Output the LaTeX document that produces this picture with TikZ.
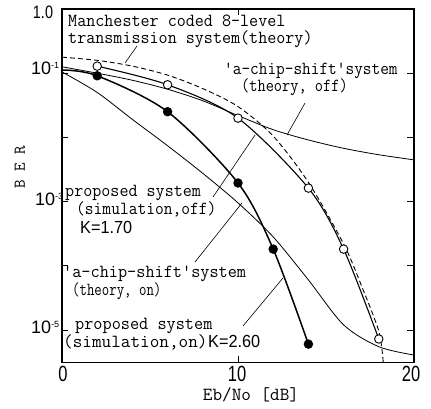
\documentclass[tikz,border=0pt]{standalone}
\usepackage{fontspec}
\usepackage{graphicx}
\newfontfamily\numfont{Liberation Sans}
\tikzset{
  lbl/.style={anchor=base west, inner sep=0pt, font=\fontsize{18.5}{18.5}\selectfont\ttfamily},
  knum/.style={anchor=base west, inner sep=0pt, font=\fontsize{17.5}{17.5}\selectfont\numfont},
  ynum/.style={inner sep=0pt, font=\fontsize{18}{18}\selectfont\numfont},
  xnum/.style={inner sep=0pt, font=\fontsize{22}{22}\selectfont\numfont},
  frame/.style={line width=1.2pt},
  tick/.style={line width=1pt},
  theory/.style={line width=0.8pt},
  simline/.style={line width=1.1pt},
  simthick/.style={line width=1.5pt},
  manch/.style={line width=0.9pt, dash pattern=on 5pt off 3pt},
  leader/.style={line width=0.6pt},
  opendot/.style={circle, draw, fill=white, line width=0.9pt, minimum size=8.5pt, inner sep=0pt},
  filldot/.style={circle, fill=black, minimum size=9.5pt, inner sep=0pt},
}
\begin{document}
\begin{tikzpicture}[x=1pt,y=-1pt]
\useasboundingbox (0,0) rectangle (431,409);
\fill[white] (0,0) rectangle (431,409);

% plot area: x = Eb/No in dB, y = log10(BER)
\begin{scope}[shift={(62,9)}, x=17.6pt, y=64.2pt]
  % frame and ticks
  \draw[frame] (0,0) rectangle (20,-5.5);
  \foreach \k in {1,...,5} {
    \draw[tick] (0,-\k) -- ++(6pt,0);
    \draw[tick] (20,-\k) -- ++(-7pt,0);
  }
  \draw[tick] (10,0) -- ++(0,-6pt);
  \draw[tick] (10,-5.5) -- ++(0,6pt);

  % theoretical curves
  \draw[manch] plot[smooth] coordinates {(0,-0.75) (2,-0.80) (4,-0.89) (6,-1.03) (8,-1.24) (10,-1.52) (12,-1.98) (14,-2.70) (16,-3.66) (17,-4.30) (18,-5.02) (18.25,-5.5)};
  \draw[theory] plot[smooth] coordinates {(0,-0.90) (2,-1.00) (4,-1.11) (6,-1.25) (8,-1.43) (10,-1.66) (12,-1.88) (14,-2.04) (16,-2.17) (18,-2.27) (20,-2.35)};
  \draw[theory] plot[smooth] coordinates {(0,-0.98) (2,-1.30) (4,-1.72) (6,-2.13) (8,-2.56) (10,-3.02) (12,-3.55) (14,-4.22) (16,-4.92) (18,-5.26) (20,-5.39)};

  % simulated points
  \coordinate (o2) at (2,-0.89);
  \coordinate (o6) at (6,-1.18);
  \coordinate (o10) at (10,-1.70);
  \coordinate (o14) at (14,-2.79);
  \coordinate (o16) at (16,-3.74);
  \coordinate (o18) at (18,-5.14);
  \coordinate (f0) at (0,-0.95);
  \coordinate (f2) at (2,-1.04);
  \coordinate (f6) at (6,-1.60);
  \coordinate (f10) at (10,-2.71);
  \coordinate (f12) at (12,-3.74);
  \coordinate (f14) at (14,-5.22);

  \draw[simline] plot[smooth] coordinates {(o2) (o6) (o10) (o14) (o16) (o18)};
  \draw[simthick] plot[smooth] coordinates {(f0) (f2) (f6) (f10) (f12) (f14)};

  \foreach \p in {o2,o6,o10,o14,o16,o18} \node[opendot] (dot-\p) at (\p) {};
  \foreach \p in {f2,f6,f10,f12,f14} \node[filldot] (dot-\p) at (\p) {};
\end{scope}

% axis numbers
\node[ynum] (y0) at (43,12) {\scalebox{0.8}[1]{1.0}};
\node[ynum, anchor=base west] (y1) at (31,75) {10\raisebox{6pt}{\fontsize{9}{9}\selectfont -1}};
\node[ynum, anchor=base west] (y3) at (35,205) {10\raisebox{6pt}{\fontsize{9}{9}\selectfont -3}};
\node[ynum, anchor=base west] (y5) at (31,333) {10\raisebox{6pt}{\fontsize{9}{9}\selectfont -5}};
\node[xnum] (x0) at (63,374) {\scalebox{0.75}[1]{0}};
\node[xnum] (x10) at (237,374) {\scalebox{0.75}[1]{10}};
\node[xnum] (x20) at (411,374) {\scalebox{0.75}[1]{20}};
\node[lbl, anchor=base] (xlab) at (251,400) {\scalebox{1.01}[1]{Eb/No [dB]}};
\node[rotate=90, inner sep=0pt, font=\fontsize{16.5}{16.5}\selectfont\ttfamily] (ylab) at (20,167) {B E R};

% curve labels
\node[lbl] (manA) at (68,27) {\scalebox{0.95}[1]{Manchester coded 8-level}};
\node[lbl] (manB) at (68,44) {\scalebox{0.95}[1]{transmission system(theory)}};
\node[lbl] (offA) at (224,75) {\scalebox{0.91}[1]{'a-chip-shift'system}};
\node[lbl] (offB) at (241,92) {\scalebox{0.86}[1]{(theory, off)}};
\node[lbl] (psA) at (65,196) {\scalebox{0.95}[1]{proposed system}};
\node[lbl] (psB) at (76,214) {\scalebox{0.92}[1]{(simulation,off)}};
\node[knum] (psC) at (80,233) {\scalebox{0.93}[1]{K=1.70}};
\node[lbl] (onA) at (63,277) {\scalebox{0.96}[1]{'a-chip-shift'system}};
\node[lbl] (onB) at (72,295) {\scalebox{0.78}[1]{(theory, on)}};
\node[lbl] (pnA) at (75,329) {\scalebox{0.96}[1]{proposed system}};
\node[lbl] (pnB) at (63,347) {\scalebox{1.01}[1]{(simulation,on)}};
\node[knum] (pnC) at (208,347) {\scalebox{0.93}[1]{K=2.60}};

% leader lines
\coordinate (manS) at (137,46);  \coordinate (manT) at (125,63);
\coordinate (offS) at (305,103); \coordinate (offT) at (287,135);
\coordinate (psS) at (213,197);  \coordinate (psT) at (255,135);
\coordinate (onS) at (195,262);  \coordinate (onT) at (242,203);
\coordinate (pnS) at (243,326);  \coordinate (pnT) at (283,278);
\draw[leader] (manS) -- (manT);
\draw[leader] (offS) -- (offT);
\draw[leader] (psS) -- (psT);
\draw[leader] (onS) -- (onT);
\draw[leader] (pnS) -- (pnT);
\end{tikzpicture}
\end{document}
